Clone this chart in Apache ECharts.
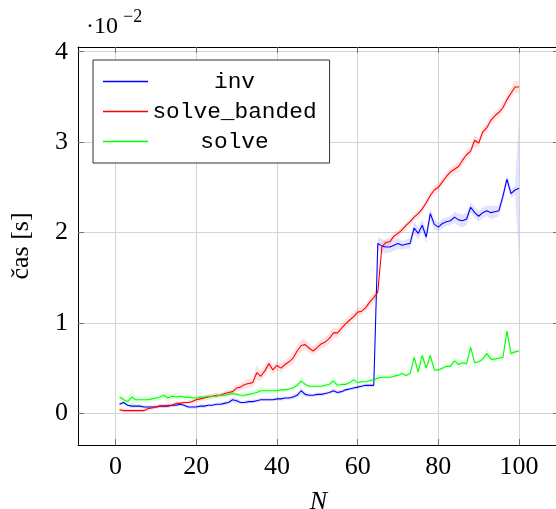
<!DOCTYPE html>
<html>
<head>
<meta charset="utf-8">
<script src="https://cdn.jsdelivr.net/npm/echarts@6/dist/echarts.min.js"></script>
<style>
  html, body { margin: 0; padding: 0; background: #fff; }
  #chart { width: 556px; height: 509px; }
</style>
</head>
<body>
<div id="chart"></div>
<script>
// Matrix size N
const sizes = [
  1,2,3,4,5,6,7,8,9,10, 11,12,13,14,15,16,17,18,19,20,
  21,22,23,24,25,26,27,28,29,30, 31,32,33,34,35,36,37,38,39,40,
  41,42,43,44,45,46,47,48,49,50, 51,52,53,54,55,56,57,58,59,60,
  61,62,63,64,65,66,67,68,69,70, 71,72,73,74,75,76,77,78,79,80,
  81,82,83,84,85,86,87,88,89,90, 91,92,93,94,95,96,97,98,99,100
];

// Mean run time, in units of 1e-2 s
const invTime = [
  0.10,0.12,0.09,0.08,0.08,0.08,0.07,0.07,0.07,0.07,
  0.08,0.08,0.08,0.09,0.09,0.10,0.09,0.07,0.07,0.07,
  0.08,0.08,0.09,0.09,0.10,0.10,0.11,0.12,0.15,0.14,
  0.12,0.12,0.13,0.13,0.14,0.15,0.15,0.15,0.15,0.16,
  0.16,0.17,0.17,0.18,0.20,0.25,0.21,0.20,0.20,0.21,
  0.21,0.22,0.23,0.25,0.23,0.24,0.26,0.27,0.28,0.29,
  0.30,0.31,0.31,0.31,1.88,1.85,1.84,1.84,1.86,1.88,
  1.86,1.87,1.88,2.05,1.99,2.08,1.95,2.21,2.09,2.06,
  2.10,2.12,2.13,2.17,2.14,2.13,2.15,2.28,2.22,2.18,
  2.22,2.24,2.22,2.23,2.24,2.40,2.59,2.43,2.47,2.49
];
const bandedTime = [
  0.04,0.03,0.03,0.03,0.03,0.03,0.03,0.05,0.06,0.07,
  0.08,0.08,0.09,0.09,0.11,0.11,0.12,0.12,0.13,0.15,
  0.16,0.17,0.18,0.19,0.20,0.20,0.22,0.23,0.24,0.28,
  0.29,0.32,0.33,0.34,0.45,0.41,0.47,0.55,0.48,0.53,
  0.50,0.54,0.57,0.61,0.69,0.75,0.76,0.72,0.69,0.73,
  0.77,0.79,0.83,0.89,0.89,0.94,0.99,1.03,1.07,1.12,
  1.13,1.17,1.23,1.28,1.34,1.84,1.89,1.90,1.96,1.99,
  2.03,2.08,2.12,2.17,2.21,2.26,2.33,2.41,2.47,2.50,
  2.56,2.62,2.67,2.70,2.73,2.80,2.86,2.90,3.02,2.99,
  3.11,3.16,3.24,3.29,3.33,3.38,3.47,3.54,3.61,3.61
];
const solveTime = [
  0.18,0.15,0.13,0.18,0.15,0.15,0.15,0.15,0.16,0.17,
  0.18,0.20,0.17,0.19,0.18,0.19,0.18,0.18,0.17,0.17,
  0.18,0.18,0.19,0.19,0.19,0.20,0.20,0.21,0.22,0.21,
  0.20,0.20,0.21,0.22,0.23,0.25,0.25,0.25,0.25,0.25,
  0.26,0.26,0.27,0.28,0.31,0.36,0.32,0.30,0.30,0.30,
  0.30,0.31,0.32,0.36,0.31,0.32,0.32,0.34,0.37,0.34,
  0.35,0.35,0.36,0.37,0.39,0.40,0.40,0.40,0.41,0.42,
  0.44,0.42,0.44,0.62,0.46,0.64,0.50,0.64,0.48,0.48,
  0.50,0.52,0.52,0.58,0.54,0.56,0.55,0.73,0.56,0.57,
  0.60,0.66,0.60,0.60,0.61,0.62,0.91,0.66,0.68,0.69
];

// Spread (half-width of the shaded band) around each mean
const invSpread = [
  0.02,0.02,0.02,0.02,0.02,0.02,0.02,0.02,0.02,0.02,
  0.02,0.02,0.02,0.02,0.02,0.02,0.02,0.02,0.02,0.02,
  0.02,0.02,0.02,0.02,0.02,0.02,0.02,0.02,0.03,0.03,
  0.02,0.02,0.02,0.02,0.02,0.02,0.02,0.02,0.02,0.02,
  0.02,0.02,0.02,0.02,0.03,0.04,0.03,0.02,0.02,0.02,
  0.02,0.02,0.02,0.03,0.02,0.02,0.02,0.02,0.02,0.02,
  0.02,0.02,0.02,0.02,0.07,0.08,0.07,0.06,0.06,0.06,
  0.05,0.05,0.06,0.07,0.07,0.07,0.07,0.06,0.06,0.05,
  0.05,0.05,0.05,0.06,0.07,0.07,0.07,0.06,0.06,0.06,
  0.06,0.06,0.07,0.07,0.06,0.06,0.05,0.05,0.05,0.80
];
const bandedSpread = [
  0.02,0.02,0.02,0.02,0.02,0.02,0.02,0.02,0.02,0.02,
  0.02,0.02,0.02,0.02,0.02,0.02,0.02,0.02,0.02,0.03,
  0.03,0.03,0.03,0.03,0.03,0.03,0.03,0.03,0.04,0.04,
  0.04,0.04,0.05,0.05,0.08,0.05,0.06,0.05,0.05,0.05,
  0.05,0.05,0.05,0.06,0.06,0.07,0.06,0.05,0.05,0.05,
  0.05,0.05,0.06,0.06,0.05,0.05,0.05,0.05,0.05,0.05,
  0.04,0.04,0.05,0.05,0.05,0.05,0.04,0.04,0.04,0.04,
  0.04,0.04,0.04,0.04,0.04,0.04,0.04,0.04,0.05,0.05,
  0.05,0.05,0.05,0.05,0.06,0.05,0.05,0.05,0.06,0.05,
  0.05,0.05,0.05,0.05,0.05,0.05,0.05,0.06,0.07,0.06
];
const solveSpread = [
  0.07,0.03,0.03,0.09,0.04,0.03,0.03,0.03,0.03,0.03,
  0.03,0.04,0.06,0.03,0.05,0.03,0.03,0.04,0.03,0.02,
  0.02,0.02,0.02,0.02,0.02,0.02,0.02,0.02,0.03,0.02,
  0.02,0.02,0.02,0.03,0.04,0.04,0.04,0.03,0.03,0.03,
  0.02,0.02,0.02,0.03,0.03,0.05,0.03,0.02,0.02,0.02,
  0.02,0.02,0.03,0.04,0.03,0.02,0.02,0.03,0.04,0.03,
  0.02,0.02,0.02,0.03,0.04,0.03,0.02,0.02,0.02,0.02,
  0.02,0.02,0.02,0.05,0.04,0.06,0.04,0.05,0.03,0.02,
  0.02,0.02,0.03,0.04,0.04,0.04,0.03,0.04,0.03,0.02,
  0.03,0.06,0.04,0.03,0.03,0.03,0.04,0.03,0.02,0.02
];

const xTicks = [0, 20, 40, 60, 80, 100];
const yTicks = [0, 1, 2, 3, 4];

const X_MIN = -9.3, X_MAX = 109.9;
const Y_MIN = -0.35, Y_MAX = 4.052;

const SERIF = '"Liberation Serif", "DejaVu Serif", serif';
const MONO = '"Liberation Mono", "DejaVu Sans Mono", monospace';

function pairs(xs, ys) { return xs.map((x, i) => [x, ys[i]]); }

// Shaded band between mean - spread and mean + spread, drawn as one polygon
function bandSeries(key, mean, spread, fill) {
  const rows = sizes.map((n, i) => [n, mean[i] - spread[i], mean[i] + spread[i]]);
  return {
    name: key + '-band', type: 'custom', data: rows, silent: true,
    animation: false, clip: true, z: 1,
    encode: { x: 0, y: [1, 2] },
    renderItem(params, api) {
      if (params.dataIndex !== 0) return null;
      const upper = rows.map(r => api.coord([r[0], r[2]]));
      const lower = rows.map(r => api.coord([r[0], r[1]])).reverse();
      return {
        type: 'polygon',
        shape: { points: upper.concat(lower) },
        style: { fill, stroke: null }
      };
    }
  };
}

function lineSeries(name, mean, color) {
  return {
    name, type: 'line', data: pairs(sizes, mean), symbol: 'none',
    animation: false, z: 3,
    itemStyle: { color }, lineStyle: { color, width: 1.1 }
  };
}

const chart = echarts.init(document.getElementById('chart'), null, { renderer: 'canvas' });

const axisLine = { show: true, onZero: false, lineStyle: { color: '#000', width: 1 } };
const tickStyle = { color: '#707070', width: 1 };

chart.setOption({
  backgroundColor: '#fff',
  animation: false,
  grid: { left: 78, top: 47, width: 481, height: 398, containLabel: false, outerBoundsMode: 'none' },
  xAxis: [
    {
      type: 'value', min: X_MIN, max: X_MAX, position: 'bottom',
      axisLine,
      axisTick: { show: true, inside: true, length: 6, customValues: xTicks, lineStyle: tickStyle },
      axisLabel: { customValues: xTicks, margin: 9, color: '#000', fontFamily: SERIF, fontSize: 26 },
      splitLine: { show: true, lineStyle: { color: '#d4d4d4', width: 1 } },
      name: 'N', nameLocation: 'middle', nameGap: 44,
      nameTextStyle: { fontFamily: SERIF, fontStyle: 'italic', fontSize: 26, color: '#000' }
    },
    {
      type: 'value', min: X_MIN, max: X_MAX, position: 'top',
      axisLine,
      axisTick: { show: true, inside: true, length: 6, customValues: xTicks, lineStyle: tickStyle },
      axisLabel: { show: false },
      splitLine: { show: false }
    }
  ],
  yAxis: [
    {
      type: 'value', min: Y_MIN, max: Y_MAX, position: 'left',
      axisLine,
      axisTick: { show: true, inside: true, length: 6, customValues: yTicks, lineStyle: tickStyle },
      axisLabel: { customValues: yTicks, margin: 10, color: '#000', fontFamily: SERIF, fontSize: 26 },
      splitLine: { show: true, lineStyle: { color: '#d4d4d4', width: 1 } },
      name: 'čas [s]', nameLocation: 'middle', nameGap: 44, nameRotate: 90,
      nameTextStyle: { fontFamily: SERIF, fontSize: 26, color: '#000' }
    },
    {
      type: 'value', min: Y_MIN, max: Y_MAX, position: 'right',
      axisLine,
      axisTick: { show: true, inside: true, length: 6, customValues: yTicks, lineStyle: tickStyle },
      axisLabel: { show: false },
      splitLine: { show: false }
    }
  ],
  legend: {
    data: ['inv', 'solve_banded', 'solve'],
    orient: 'vertical', left: 93, top: 60,
    backgroundColor: '#fff', borderColor: '#333', borderWidth: 1, borderRadius: 0,
    padding: [10, 13, 10, 10], itemGap: 7,
    itemWidth: 45, itemHeight: 1.5, icon: 'rect',
    selectedMode: false,
    formatter: name => '{t|' + name + '}',
    textStyle: {
      rich: { t: { width: 163, align: 'center', fontFamily: MONO, fontSize: 22.8, lineHeight: 24, color: '#000' } }
    }
  },
  graphic: [
    { type: 'text', left: 86, top: 15, style: { text: '·10', font: '24px ' + SERIF, fill: '#000' } },
    { type: 'text', left: 123, top: 8, style: { text: '−2', font: '18px ' + SERIF, fill: '#000' } }
  ],
  series: [
    bandSeries('inv', invTime, invSpread, 'rgba(0,0,255,0.11)'),
    bandSeries('banded', bandedTime, bandedSpread, 'rgba(255,0,0,0.11)'),
    bandSeries('solve', solveTime, solveSpread, 'rgba(0,255,0,0.11)'),
    lineSeries('inv', invTime, '#0000ff'),
    lineSeries('solve_banded', bandedTime, '#ff0000'),
    lineSeries('solve', solveTime, '#00ff00')
  ]
});
</script>
</body>
</html>
